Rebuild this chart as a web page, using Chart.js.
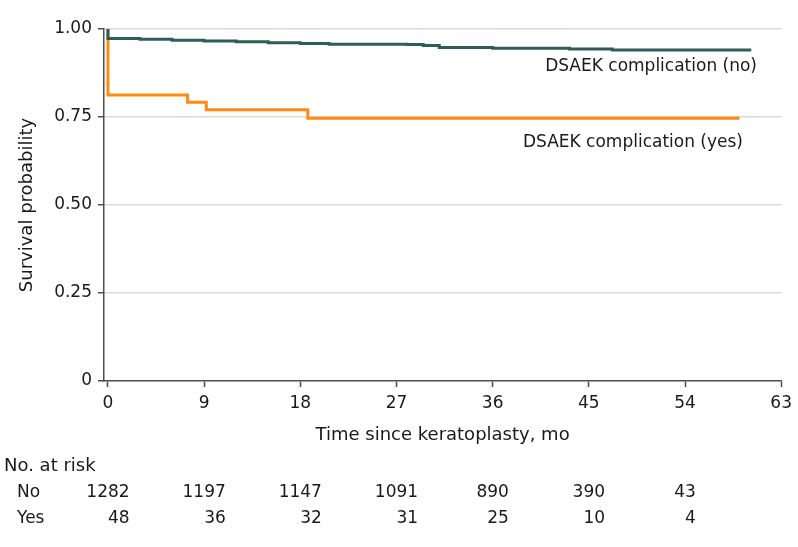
<!DOCTYPE html>
<html>
<head>
<meta charset="utf-8">
<script src="https://cdn.jsdelivr.net/npm/chart.js@4.4.1/dist/chart.umd.min.js"></script>
<style>
  html, body { margin: 0; padding: 0; background: #fff; }
  canvas { display: block; }
</style>
</head>
<body>
<canvas id="kmChart" width="798" height="547"></canvas>
<script>
// axis ticks
const xTicks = [0, 9, 18, 27, 36, 45, 54, 63];
const yTicks = [0, 0.25, 0.5, 0.75, 1];

// Kaplan-Meier curves (value holds from each time onward)
const noTimes = [0, 0, 3, 6, 9, 12, 15, 18, 20.7, 28, 29.5, 31, 36, 43.2, 47.2, 60.2];
const noSurv = [1, 0.973, 0.971, 0.968, 0.966, 0.964, 0.961, 0.959, 0.957, 0.956, 0.953, 0.9475, 0.9452, 0.943, 0.940, 0.940];
const yesTimes = [0, 0, 7.45, 9.2, 18.7, 59.1];
const yesSurv = [1, 0.8125, 0.7917, 0.7708, 0.7467, 0.7467];
const seriesNames = ["DSAEK complication (no)", "DSAEK complication (yes)"];

// number at risk table
const riskTimes = [0, 9, 18, 27, 36, 45, 54];
const riskNo = [1282, 1197, 1147, 1091, 890, 390, 43];
const riskYes = [48, 36, 32, 31, 25, 10, 4];

const FONT = "'DejaVu Sans', sans-serif";
const AXIS = "#4d4d4d";

function toPoints(times, surv) {
  return times.map((t, i) => ({ x: t, y: surv[i] }));
}

const annotate = {
  id: "annotate",
  afterDraw(chart) {
    const { ctx } = chart;
    const x = chart.scales.x;
    ctx.save();
    ctx.fillStyle = "#1a1a1a";
    ctx.font = "17px " + FONT;
    ctx.textBaseline = "middle";

    // curve labels
    ctx.textAlign = "right";
    ctx.fillText(seriesNames[0], 757, 67);
    ctx.fillText(seriesNames[1], 743, 143);

    // at-risk table
    ctx.font = "18px " + FONT;
    ctx.textAlign = "left";
    ctx.fillText("No. at risk", 4, 466);
    ctx.font = "17px " + FONT;
    ctx.fillText("No", 17, 493);
    ctx.fillText("Yes", 17, 519);
    riskTimes.forEach((t, i) => {
      const cx = x.getPixelForValue(t);
      const w = ctx.measureText(String(riskNo[i])).width;
      ctx.textAlign = "center";
      ctx.fillText(String(riskNo[i]), cx, 493);
      ctx.textAlign = "right";
      ctx.fillText(String(riskYes[i]), cx + w / 2, 519);
    });
    ctx.restore();
  }
};

new Chart(document.getElementById("kmChart").getContext("2d"), {
  type: "line",
  data: {
    datasets: [
      {
        label: seriesNames[0],
        data: toPoints(noTimes, noSurv),
        borderColor: "#2f5d59",
        borderWidth: 3,
        stepped: "before",
        pointRadius: 0,
        fill: false,
        clip: false
      },
      {
        label: seriesNames[1],
        data: toPoints(yesTimes, yesSurv),
        borderColor: "#ff8c10",
        borderWidth: 3,
        stepped: "before",
        pointRadius: 0,
        fill: false,
        clip: false
      }
    ]
  },
  options: {
    responsive: false,
    animation: false,
    layout: { padding: { left: 0, top: 29, right: 16, bottom: 101.2 } },
    plugins: {
      legend: { display: false },
      tooltip: { enabled: false }
    },
    scales: {
      x: {
        type: "linear",
        min: -0.37,
        max: 63,
        afterBuildTicks: (scale) => { scale.ticks = xTicks.map((v) => ({ value: v })); },
        afterFit: (scale) => { scale.height = 64.8; },
        border: { display: true, color: AXIS, width: 1.5 },
        grid: { drawOnChartArea: false, drawTicks: true, tickLength: 6, tickColor: AXIS, tickWidth: 1.5 },
        ticks: { color: "#1a1a1a", padding: 6, maxRotation: 0, autoSkip: false, font: { family: FONT, size: 17 } },
        title: {
          display: true,
          text: "Time since keratoplasty, mo",
          color: "#1a1a1a",
          padding: { top: 0, bottom: 0 },
          font: { family: FONT, size: 18, lineHeight: 1.2 }
        }
      },
      y: {
        min: 0,
        max: 1,
        afterBuildTicks: (scale) => { scale.ticks = yTicks.map((v) => ({ value: v })); },
        afterFit: (scale) => { scale.width = 104; },
        border: { display: true, color: AXIS, width: 1.5 },
        grid: {
          drawTicks: true,
          tickLength: 6,
          tickColor: AXIS,
          tickWidth: 1.5,
          lineWidth: 1.5,
          color: (c) => (c.tick && c.tick.value === 0 ? "rgba(0,0,0,0)" : "#d9d9d9")
        },
        ticks: {
          color: "#1a1a1a",
          padding: 6,
          font: { family: FONT, size: 17 },
          callback: (v) => (v === 0 ? "0" : v.toFixed(2))
        },
        title: {
          display: true,
          text: "Survival probability",
          color: "#1a1a1a",
          padding: { top: 17, bottom: 0 },
          font: { family: FONT, size: 18, lineHeight: 1.2 }
        }
      }
    }
  },
  plugins: [annotate]
});
</script>
</body>
</html>
